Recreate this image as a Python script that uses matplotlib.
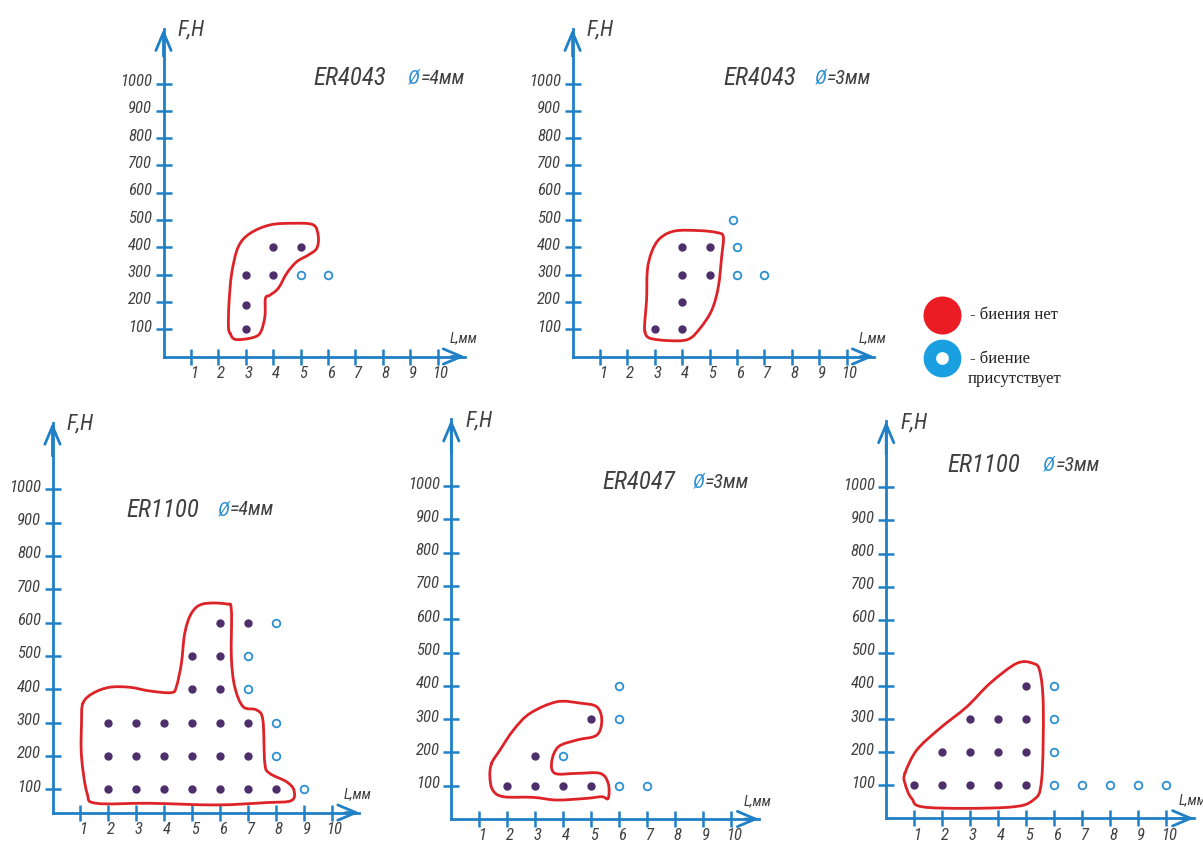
import matplotlib
matplotlib.use("Agg")
import matplotlib.pyplot as plt
from matplotlib import font_manager
from matplotlib.path import Path
from matplotlib.patches import PathPatch
from matplotlib.transforms import ScaledTranslation

# ---- data ------------------------------------------------------------
x_ticks = [1, 2, 3, 4, 5, 6, 7, 8, 9, 10]
f_ticks = [100, 200, 300, 400, 500, 600, 700, 800, 900, 1000]

grades = ["ER4043", "ER4043", "ER1100", "ER4047", "ER1100"]
diams = ["=4мм", "=3мм", "=4мм", "=3мм", "=3мм"]

# ER4043, d=4 mm
p1_ok_L = [3, 3, 3, 4, 4, 5]
p1_ok_F = [100, 190, 300, 300, 400, 400]
p1_beat_L = [5, 6]
p1_beat_F = [300, 300]
p1_zone = [(2.43, 85), (2.61, 63), (3.16, 67), (3.52, 85), (3.70, 146), (3.72, 213),
           (3.89, 225), (4.19, 250), (4.50, 305), (4.86, 347), (5.29, 372), (5.59, 396),
           (5.65, 439), (5.47, 482), (4.74, 488), (3.89, 482), (3.16, 451), (2.73, 402),
           (2.49, 305), (2.39, 195), (2.37, 109)]

# ER4043, d=3 mm
p2_ok_L = [3, 4, 4, 4, 4, 5, 5]
p2_ok_F = [100, 100, 200, 300, 400, 300, 400]
p2_beat_L = [5.85, 6, 6, 7]
p2_beat_F = [500, 400, 300, 300]
p2_zone = [(2.64, 91), (2.82, 67), (3.55, 58), (4.22, 63), (4.65, 103), (5.08, 170),
           (5.32, 256), (5.44, 366), (5.50, 439), (5.26, 454), (4.65, 461), (3.74, 460),
           (3.19, 433), (2.89, 384), (2.73, 317), (2.70, 207), (2.64, 134)]

# ER1100, d=4 mm
p3_ok_L = [2, 3, 4, 5, 6, 7, 8, 2, 3, 4, 5, 6, 7, 2, 3, 4, 5, 6, 7, 5, 6, 5, 6, 6, 7]
p3_ok_F = [100, 100, 100, 100, 100, 100, 100, 200, 200, 200, 200, 200, 200,
           300, 300, 300, 300, 300, 300, 400, 400, 500, 500, 600, 600]
p3_beat_L = [8, 7, 7, 8, 8, 9]
p3_beat_F = [600, 500, 400, 300, 200, 100]
p3_zone = [(1.09, 358), (1.45, 388), (2.05, 406), (2.77, 406), (3.48, 395), (4.26, 390),
           (4.44, 408), (4.62, 478), (4.74, 568), (4.98, 628), (5.39, 656), (6.23, 656),
           (6.41, 638), (6.41, 498), (6.53, 408), (6.83, 348), (7.31, 338), (7.54, 308),
           (7.61, 178), (7.78, 148), (8.38, 123), (8.65, 98), (8.56, 66), (7.67, 60),
           (5.87, 53), (3.48, 58), (1.57, 58), (1.24, 88), (1.04, 198), (1.04, 298)]

# ER4047, d=3 mm
p4_ok_L = [2, 3, 4, 5, 3, 5]
p4_ok_F = [100, 100, 100, 100, 190, 300]
p4_beat_L = [4, 6, 7, 6, 6]
p4_beat_F = [190, 100, 100, 300, 400]
p4_zone = [(1.44, 167), (1.74, 207), (2.22, 267), (2.81, 317), (3.77, 352), (4.60, 348),
           (5.20, 337), (5.38, 297), (5.20, 252), (4.48, 237), (3.83, 217), (3.59, 172),
           (3.71, 137), (4.48, 137), (5.32, 137), (5.61, 107), (5.61, 62), (5.38, 67),
           (4.84, 62), (3.77, 57), (2.93, 65), (1.86, 67), (1.48, 87), (1.38, 127)]

# ER1100, d=3 mm
p5_ok_L = [1, 2, 3, 4, 5, 2, 3, 4, 5, 3, 4, 5, 5]
p5_ok_F = [100, 100, 100, 100, 100, 200, 200, 200, 200, 300, 300, 300, 400]
p5_beat_L = [6, 6, 6, 6, 7, 8, 9, 10]
p5_beat_F = [100, 200, 300, 400, 100, 100, 100, 100]
p5_zone = [(0.67, 136), (1.09, 206), (1.92, 272), (2.88, 337), (3.71, 408), (4.66, 468),
           (5.25, 468), (5.49, 443), (5.61, 337), (5.55, 116), (5.25, 55), (4.30, 33),
           (1.45, 33), (0.91, 60), (0.67, 106)]

# ---- style -----------------------------------------------------------
BLUE = "#1f80c6"
RED = "#de2328"
DOT = "#4d2f6b"
OPEN = "#2b8fd2"
GREY = "#404040"
LEG_RED = "#ec1c24"
LEG_BLUE = "#1aa0e0"

# a narrow drafting-like face if one exists, otherwise Arial-metric Liberation Sans
fonts = font_manager.fontManager.ttflist
names = {f.name for f in fonts}
STRETCH = "normal"
if "Liberation Sans Narrow" in names:
    FACE, SIZES = "Liberation Sans Narrow", (18, 14, 11.5, 14, 10.5)
elif "Roboto Condensed" in names:
    FACE, SIZES = "Roboto Condensed", (18, 14.5, 12, 15.5, 10.5)
elif any(f.name == "DejaVu Sans" and "condensed" in str(f.stretch) for f in fonts):
    FACE, SIZES, STRETCH = "DejaVu Sans", (16.5, 13.5, 11, 14, 10), "condensed"
else:
    FACE, SIZES = "Liberation Sans", (14, 13, 10.5, 12.5, 9.5)
TITLE_FS, DIAM_FS, TICK_FS, FH_FS, L_FS = SIZES
SERIF = "Liberation Serif" if "Liberation Serif" in names else "DejaVu Serif"
plt.rcParams["font.family"] = [FACE]
plt.rcParams["font.stretch"] = STRETCH

W, H = 1203, 848
fig = plt.figure(figsize=(W / 100, H / 100), dpi=100)

# legend drawn in pixel space
lg = fig.add_axes([0, 0, 1, 1])
lg.set_xlim(0, W)
lg.set_ylim(H, 0)
lg.axis("off")
lg.scatter([942], [315], s=750, color=LEG_RED, lw=0)
lg.scatter([942], [358], s=330, facecolor="white", edgecolor=LEG_BLUE, linewidths=9)
lg.text(970, 315, "- биения нет", family=SERIF, fontsize=12, color="#222222", va="center")
lg.text(970, 359, "- биение", family=SERIF, fontsize=12, color="#222222", va="center")
lg.text(968, 379, "присутствует", family=SERIF, fontsize=12, color="#222222", va="center")


def smooth_closed(points):
    n = len(points)
    verts = [points[0]]
    codes = [Path.MOVETO]
    for i in range(n):
        p0, p1 = points[i - 1], points[i]
        p2, p3 = points[(i + 1) % n], points[(i + 2) % n]
        c1 = (p1[0] + (p2[0] - p0[0]) / 6, p1[1] + (p2[1] - p0[1]) / 6)
        c2 = (p2[0] - (p3[0] - p1[0]) / 6, p2[1] - (p3[1] - p1[1]) / 6)
        verts += [c1, c2, p2]
        codes += [Path.CURVE4] * 3
    return Path(verts, codes)


def panel(ox, oy, sx, sy, base_f, ok_L, ok_F, beat_L, beat_F, zone, grade, diam, title_at, diam_x):
    left, right = ox - 75, ox + 12.2 * sx
    top, bottom = oy - 13.0 * sy, oy + 40
    ax = fig.add_axes([left / W, 1 - bottom / H, (right - left) / W, (bottom - top) / H])
    ax.set_xlim((left - ox) / sx, (right - ox) / sx)
    ax.set_ylim((oy - bottom) / sy * 100, (oy - top) / sy * 100)
    ax.patch.set_visible(False)
    ax.spines["top"].set_visible(False)
    ax.spines["right"].set_visible(False)
    ax.spines["left"].set_position(("data", 0))
    ax.spines["bottom"].set_position(("data", base_f))
    ax.spines["left"].set_bounds(base_f, 1200)
    ax.spines["bottom"].set_bounds(0, 11)
    for s in ("left", "bottom"):
        ax.spines[s].set_color(BLUE)
        ax.spines[s].set_linewidth(2)

    ax.set_xticks(x_ticks, labels=[str(v) for v in x_ticks])
    ax.set_yticks(f_ticks, labels=[str(v) for v in f_ticks])
    ax.tick_params(direction="inout", length=11.5, width=1.8, color=BLUE,
                   labelcolor=GREY, labelsize=TICK_FS)
    ax.tick_params(axis="x", pad=1)
    ax.tick_params(axis="y", pad=2.5)
    for lab in ax.get_xticklabels():
        lab.set_fontstyle("italic")
        lab.set_transform(lab.get_transform() + ScaledTranslation(2 / 72, 0, fig.dpi_scale_trans))
    for lab in ax.get_yticklabels():
        lab.set_fontstyle("italic")
        lab.set_transform(lab.get_transform() + ScaledTranslation(0, 2.5 / 72, fig.dpi_scale_trans))

    arrow = dict(arrowstyle="->,head_length=1.3,head_width=0.55", color=BLUE, lw=2,
                 shrinkA=0, shrinkB=0, mutation_scale=10)
    ax.annotate("", xy=(0, 1200), xytext=(0, 1100), arrowprops=arrow)
    ax.annotate("", xy=(11, base_f), xytext=(10.5, base_f), arrowprops=arrow)
    ax.annotate("F,Н", xy=(0, 1200), xytext=(10, -1), textcoords="offset points",
                ha="left", va="center", fontsize=FH_FS, style="italic", color=GREY)
    ax.annotate("L,мм", xy=(11, base_f), xytext=(-1, 13), textcoords="offset points",
                ha="center", va="center", fontsize=L_FS, style="italic", color=GREY)

    ax.add_patch(PathPatch(smooth_closed(zone), fill=False, ec=RED, lw=2,
                           joinstyle="round", capstyle="round", zorder=3))
    ax.plot(ok_L, ok_F, "o", ms=5, color=DOT, mec=DOT, zorder=4)
    ax.plot(beat_L, beat_F, "o", ms=5.5, mfc="white", mec=OPEN, mew=1.3, zorder=4)

    ax.text(title_at[0], title_at[1], grade, fontsize=TITLE_FS, style="italic", color=GREY,
            ha="left", va="center")
    d = ax.text(diam_x, title_at[1], "Ø", fontsize=DIAM_FS, style="italic", color=OPEN,
                ha="left", va="center")
    ax.annotate(diam, xy=(1, 0.5), xycoords=d, xytext=(0.5, 0), textcoords="offset points",
                fontsize=DIAM_FS, style="italic", color=GREY, ha="left", va="center")
    return ax


panel(163.5, 356.5, 27.4, 27.3, 0, p1_ok_L, p1_ok_F, p1_beat_L, p1_beat_F, p1_zone,
      grades[0], diams[0], (5.46, 1020), 8.93)
panel(572.6, 356.5, 27.4, 27.3, 0, p2_ok_L, p2_ok_F, p2_beat_L, p2_beat_F, p2_zone,
      grades[1], diams[1], (5.49, 1020), 8.84)
panel(52.5, 822.6, 27.9, 33.33, 30, p3_ok_L, p3_ok_F, p3_beat_L, p3_beat_F, p3_zone,
      grades[2], diams[2], (2.66, 938), 5.92)
panel(451.3, 819.0, 27.97, 33.3, 0, p4_ok_L, p4_ok_F, p4_beat_L, p4_beat_F, p4_zone,
      grades[3], diams[3], (5.42, 1012), 8.64)
panel(886.2, 818.3, 28.0, 33.1, 0, p5_ok_L, p5_ok_F, p5_beat_L, p5_beat_F, p5_zone,
      grades[4], diams[4], (2.17, 1067), 5.6)

fig.savefig("out.png", dpi=100)
